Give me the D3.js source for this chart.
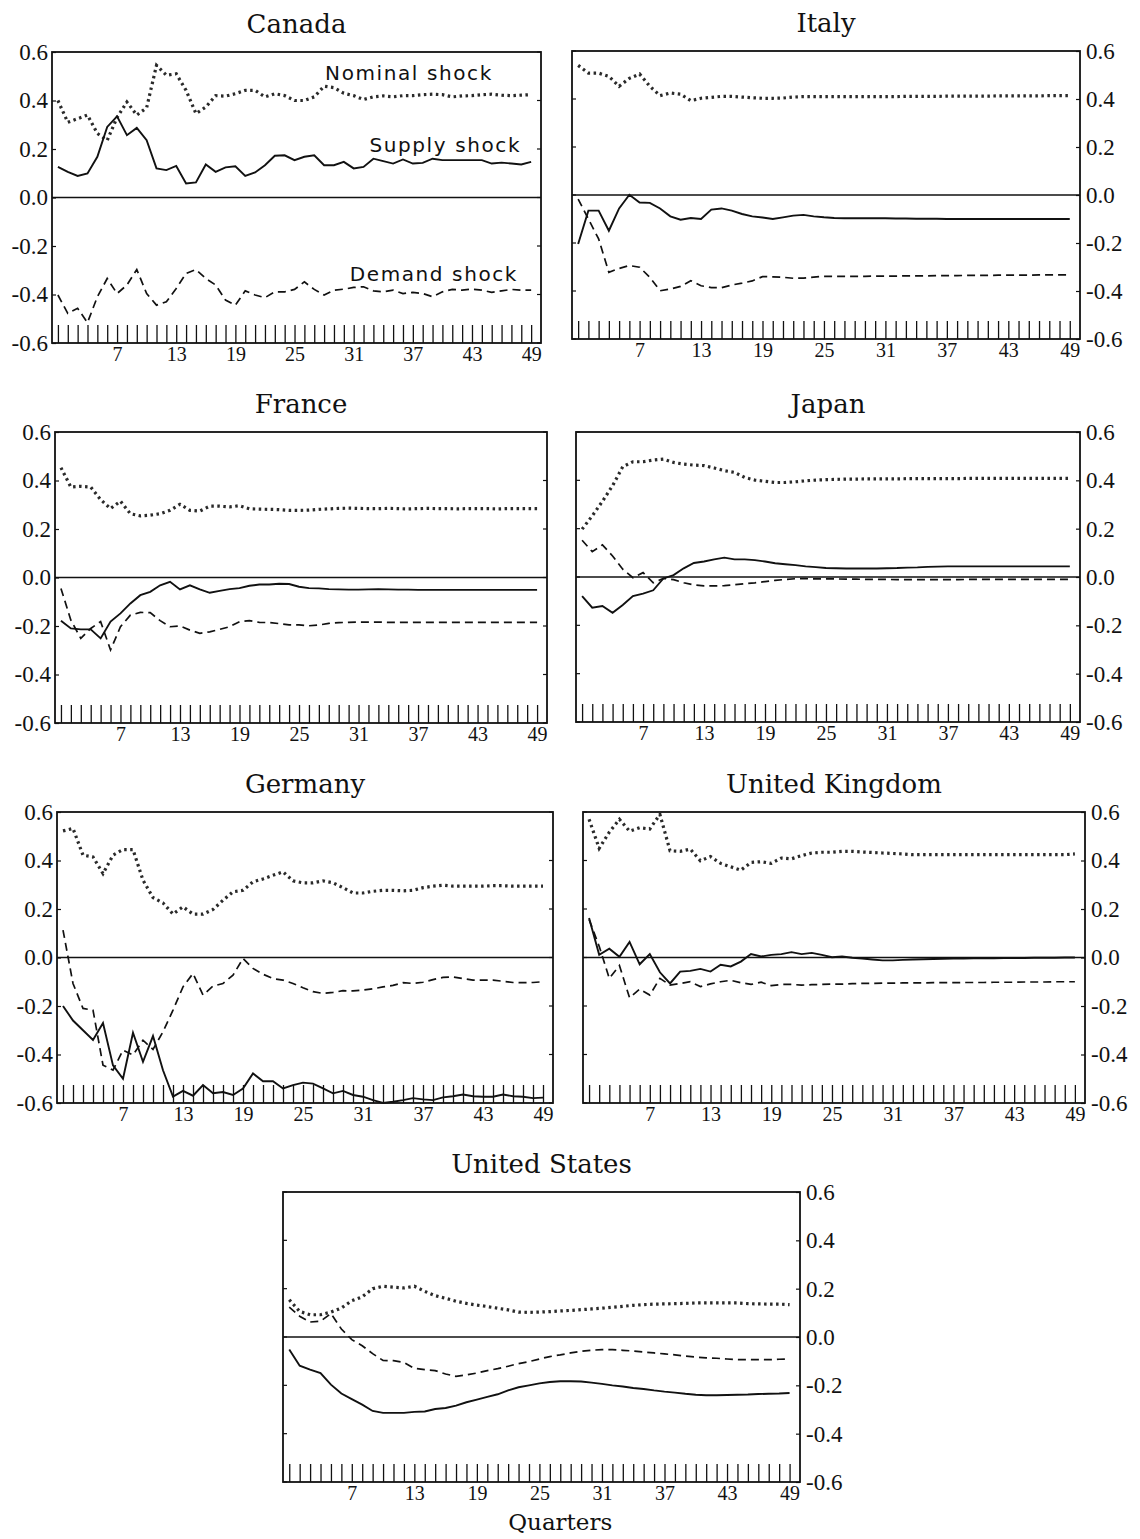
<!DOCTYPE html>
<html>
<head>
<meta charset="utf-8">
<script src="https://cdn.jsdelivr.net/npm/d3@7"></script>
<style>
  body { margin: 0; background: #fff; }
  svg { display: block; }
</style>
</head>
<body>
<div id="chart"></div>
<script>
// Impulse responses to supply, demand and nominal shocks, quarters 1..49, per country
const quarters = d3.range(1, 50);
const xTickLabels = [7, 13, 19, 25, 31, 37, 43, 49];
const yTicks = [-0.6, -0.4, -0.2, 0, 0.2, 0.4, 0.6];

const canadaSupply = [0.126,0.106,0.089,0.099,0.168,0.291,0.335,0.257,0.287,0.236,0.12,0.113,0.13,0.058,0.062,0.136,0.106,0.124,0.129,0.089,0.103,0.133,0.172,0.174,0.154,0.168,0.174,0.133,0.133,0.147,0.12,0.126,0.16,0.15,0.14,0.157,0.14,0.143,0.16,0.154,0.154,0.154,0.154,0.154,0.14,0.144,0.14,0.136,0.147];
const canadaDemand = [-0.402,-0.478,-0.457,-0.516,-0.41,-0.334,-0.396,-0.361,-0.297,-0.396,-0.444,-0.43,-0.375,-0.313,-0.297,-0.334,-0.361,-0.423,-0.444,-0.385,-0.402,-0.413,-0.389,-0.389,-0.379,-0.348,-0.379,-0.402,-0.382,-0.378,-0.371,-0.368,-0.385,-0.389,-0.382,-0.396,-0.391,-0.396,-0.409,-0.389,-0.379,-0.382,-0.378,-0.382,-0.391,-0.385,-0.379,-0.382,-0.382];
const canadaNominal = [0.40,0.31,0.325,0.34,0.264,0.236,0.33,0.394,0.34,0.37,0.545,0.504,0.51,0.442,0.346,0.373,0.42,0.418,0.428,0.442,0.442,0.415,0.428,0.42,0.40,0.40,0.415,0.459,0.453,0.43,0.42,0.404,0.415,0.419,0.415,0.42,0.42,0.424,0.426,0.424,0.415,0.419,0.42,0.424,0.426,0.422,0.42,0.422,0.424];

const italySupply = [-0.204,-0.065,-0.065,-0.149,-0.056,0.001,-0.031,-0.033,-0.056,-0.089,-0.103,-0.096,-0.1,-0.061,-0.056,-0.065,-0.079,-0.089,-0.094,-0.1,-0.093,-0.086,-0.083,-0.089,-0.093,-0.096,-0.097,-0.097,-0.097,-0.097,-0.097,-0.098,-0.098,-0.099,-0.099,-0.099,-0.1,-0.1,-0.1,-0.1,-0.1,-0.1,-0.1,-0.1,-0.1,-0.1,-0.1,-0.1,-0.1];
const italyDemand = [-0.017,-0.1,-0.183,-0.322,-0.306,-0.294,-0.301,-0.343,-0.399,-0.392,-0.381,-0.357,-0.378,-0.386,-0.386,-0.375,-0.367,-0.358,-0.34,-0.341,-0.343,-0.347,-0.346,-0.342,-0.339,-0.339,-0.339,-0.339,-0.339,-0.338,-0.338,-0.338,-0.337,-0.337,-0.337,-0.336,-0.336,-0.336,-0.335,-0.335,-0.335,-0.334,-0.334,-0.334,-0.334,-0.333,-0.333,-0.333,-0.333];
const italyNominal = [0.54,0.508,0.508,0.494,0.453,0.486,0.504,0.453,0.414,0.425,0.42,0.393,0.403,0.407,0.411,0.411,0.408,0.405,0.403,0.403,0.404,0.408,0.41,0.41,0.41,0.41,0.41,0.41,0.41,0.41,0.41,0.41,0.411,0.411,0.411,0.411,0.412,0.412,0.412,0.412,0.412,0.413,0.413,0.413,0.413,0.413,0.414,0.414,0.414];

const franceSupply = [-0.178,-0.21,-0.214,-0.214,-0.251,-0.182,-0.148,-0.107,-0.073,-0.059,-0.032,-0.018,-0.049,-0.032,-0.049,-0.063,-0.055,-0.048,-0.044,-0.034,-0.029,-0.029,-0.026,-0.027,-0.038,-0.044,-0.045,-0.048,-0.049,-0.05,-0.05,-0.049,-0.048,-0.049,-0.05,-0.05,-0.051,-0.051,-0.051,-0.051,-0.051,-0.051,-0.051,-0.051,-0.051,-0.051,-0.051,-0.051,-0.051];
const franceDemand = [-0.045,-0.176,-0.251,-0.21,-0.182,-0.299,-0.203,-0.155,-0.144,-0.145,-0.178,-0.203,-0.2,-0.217,-0.23,-0.224,-0.214,-0.203,-0.182,-0.178,-0.185,-0.186,-0.19,-0.195,-0.195,-0.199,-0.196,-0.189,-0.186,-0.185,-0.184,-0.184,-0.184,-0.185,-0.185,-0.185,-0.185,-0.185,-0.185,-0.185,-0.185,-0.185,-0.185,-0.185,-0.185,-0.185,-0.185,-0.185,-0.185];
const franceNominal = [0.453,0.373,0.376,0.373,0.321,0.284,0.315,0.263,0.254,0.257,0.263,0.277,0.302,0.277,0.274,0.294,0.294,0.291,0.296,0.283,0.282,0.281,0.28,0.277,0.277,0.278,0.281,0.283,0.285,0.286,0.285,0.284,0.284,0.285,0.284,0.283,0.284,0.285,0.284,0.284,0.283,0.284,0.284,0.284,0.283,0.284,0.284,0.284,0.284];

const japanSupply = [-0.079,-0.127,-0.12,-0.148,-0.116,-0.079,-0.069,-0.055,-0.006,0.008,0.036,0.058,0.064,0.073,0.08,0.073,0.073,0.07,0.064,0.057,0.053,0.049,0.044,0.041,0.037,0.036,0.035,0.035,0.035,0.035,0.036,0.037,0.039,0.04,0.042,0.043,0.044,0.044,0.044,0.044,0.044,0.044,0.044,0.044,0.044,0.044,0.044,0.044,0.044];
const japanDemand = [0.152,0.105,0.133,0.087,0.032,-0.003,0.018,-0.024,-0.006,-0.011,-0.024,-0.033,-0.037,-0.037,-0.036,-0.032,-0.028,-0.024,-0.019,-0.014,-0.01,-0.007,-0.007,-0.008,-0.008,-0.008,-0.009,-0.009,-0.01,-0.01,-0.01,-0.011,-0.011,-0.011,-0.011,-0.011,-0.011,-0.011,-0.01,-0.01,-0.01,-0.01,-0.01,-0.01,-0.01,-0.01,-0.01,-0.01,-0.01];
const japanNominal = [0.198,0.253,0.313,0.378,0.456,0.477,0.477,0.484,0.488,0.474,0.467,0.463,0.461,0.451,0.44,0.433,0.412,0.401,0.396,0.391,0.391,0.394,0.398,0.401,0.403,0.404,0.405,0.405,0.406,0.406,0.406,0.406,0.407,0.407,0.407,0.407,0.407,0.407,0.408,0.408,0.408,0.408,0.408,0.408,0.408,0.408,0.408,0.408,0.408];

const germanySupply = [-0.2,-0.26,-0.3,-0.34,-0.27,-0.445,-0.5,-0.31,-0.43,-0.324,-0.465,-0.574,-0.55,-0.57,-0.526,-0.56,-0.555,-0.567,-0.54,-0.478,-0.51,-0.51,-0.54,-0.526,-0.516,-0.52,-0.54,-0.56,-0.55,-0.567,-0.574,-0.588,-0.6,-0.595,-0.588,-0.58,-0.585,-0.588,-0.577,-0.572,-0.565,-0.572,-0.574,-0.574,-0.565,-0.572,-0.574,-0.58,-0.578];
const germanyDemand = [0.113,-0.107,-0.21,-0.217,-0.444,-0.464,-0.382,-0.402,-0.341,-0.379,-0.306,-0.217,-0.121,-0.066,-0.155,-0.118,-0.107,-0.073,-0.004,-0.045,-0.069,-0.087,-0.093,-0.107,-0.125,-0.141,-0.148,-0.144,-0.137,-0.138,-0.134,-0.129,-0.121,-0.115,-0.104,-0.107,-0.102,-0.091,-0.082,-0.08,-0.087,-0.093,-0.093,-0.093,-0.098,-0.103,-0.104,-0.103,-0.1];
const germanyNominal = [0.522,0.532,0.422,0.415,0.346,0.422,0.445,0.445,0.319,0.247,0.225,0.179,0.209,0.179,0.179,0.198,0.236,0.271,0.277,0.312,0.324,0.339,0.353,0.316,0.308,0.308,0.316,0.308,0.288,0.266,0.266,0.273,0.277,0.277,0.275,0.277,0.288,0.294,0.298,0.294,0.294,0.294,0.294,0.296,0.296,0.294,0.294,0.294,0.294];

const ukSupply = [0.163,0.011,0.036,0.003,0.064,-0.028,0.014,-0.061,-0.107,-0.058,-0.055,-0.047,-0.058,-0.03,-0.037,-0.017,0.014,0.004,0.011,0.014,0.022,0.014,0.019,0.011,0.001,0.004,-0.001,-0.004,-0.008,-0.012,-0.012,-0.01,-0.008,-0.007,-0.006,-0.005,-0.004,-0.004,-0.003,-0.003,-0.003,-0.002,-0.002,-0.002,-0.001,-0.001,-0.001,0,0];
const ukDemand = [0.157,0.046,-0.086,-0.033,-0.166,-0.13,-0.155,-0.086,-0.114,-0.107,-0.1,-0.12,-0.109,-0.1,-0.094,-0.104,-0.111,-0.102,-0.116,-0.111,-0.111,-0.114,-0.112,-0.111,-0.11,-0.11,-0.108,-0.107,-0.107,-0.106,-0.106,-0.105,-0.105,-0.105,-0.104,-0.104,-0.104,-0.103,-0.103,-0.103,-0.102,-0.102,-0.102,-0.101,-0.101,-0.101,-0.1,-0.1,-0.1];
const ukNominal = [0.57,0.45,0.517,0.57,0.521,0.535,0.53,0.59,0.44,0.438,0.447,0.399,0.416,0.388,0.374,0.36,0.392,0.395,0.388,0.41,0.407,0.42,0.431,0.434,0.434,0.438,0.438,0.435,0.433,0.431,0.429,0.427,0.424,0.424,0.424,0.424,0.424,0.424,0.424,0.424,0.424,0.424,0.424,0.424,0.424,0.424,0.424,0.424,0.427];

const usSupply = [-0.052,-0.119,-0.135,-0.149,-0.197,-0.234,-0.257,-0.28,-0.306,-0.314,-0.314,-0.314,-0.31,-0.308,-0.298,-0.294,-0.284,-0.27,-0.259,-0.248,-0.237,-0.221,-0.208,-0.2,-0.192,-0.186,-0.183,-0.183,-0.184,-0.189,-0.194,-0.2,-0.205,-0.211,-0.215,-0.221,-0.226,-0.23,-0.235,-0.239,-0.241,-0.241,-0.24,-0.239,-0.238,-0.236,-0.235,-0.234,-0.232];
const usDemand = [0.124,0.086,0.062,0.065,0.097,0.033,-0.011,-0.036,-0.069,-0.097,-0.098,-0.105,-0.13,-0.135,-0.139,-0.153,-0.163,-0.157,-0.149,-0.139,-0.131,-0.121,-0.11,-0.102,-0.091,-0.081,-0.074,-0.066,-0.059,-0.055,-0.052,-0.052,-0.055,-0.058,-0.062,-0.066,-0.07,-0.074,-0.079,-0.083,-0.086,-0.088,-0.091,-0.094,-0.094,-0.094,-0.094,-0.092,-0.091];
const usNominal = [0.154,0.106,0.092,0.092,0.103,0.12,0.15,0.166,0.2,0.21,0.206,0.203,0.21,0.189,0.171,0.16,0.148,0.139,0.132,0.126,0.119,0.112,0.103,0.102,0.103,0.105,0.108,0.11,0.113,0.116,0.119,0.123,0.127,0.131,0.134,0.136,0.137,0.138,0.139,0.141,0.141,0.141,0.141,0.141,0.138,0.137,0.136,0.136,0.134];

// Series labels written inside the Canada panel
const shockLabels = [
  { text: "Nominal shock", q: 28.1, v: 0.485 },
  { text: "Supply shock", q: 32.6, v: 0.188 },
  { text: "Demand shock", q: 30.6, v: -0.345 }
];

// panel frames: [left, right, top, bottom] in page pixels
const panels = [
  { name: "Canada", box: [52, 541, 52, 343], side: "left", supply: canadaSupply, demand: canadaDemand, nominal: canadaNominal, labels: shockLabels },
  { name: "Italy", box: [572, 1080, 51, 339], side: "right", supply: italySupply, demand: italyDemand, nominal: italyNominal },
  { name: "France", box: [55, 547, 432, 723], side: "left", supply: franceSupply, demand: franceDemand, nominal: franceNominal },
  { name: "Japan", box: [576, 1080, 432, 722], side: "right", supply: japanSupply, demand: japanDemand, nominal: japanNominal },
  { name: "Germany", box: [57, 553, 812, 1103], side: "left", supply: germanySupply, demand: germanyDemand, nominal: germanyNominal },
  { name: "United Kingdom", box: [583, 1085, 812, 1103], side: "right", supply: ukSupply, demand: ukDemand, nominal: ukNominal },
  { name: "United States", box: [283, 800, 1192, 1482], side: "right", supply: usSupply, demand: usDemand, nominal: usNominal, xTitle: "Quarters" }
];

const ink = "#111";

const svg = d3.select("#chart").append("svg")
  .attr("width", 1140)
  .attr("height", 1539)
  .style("background", "#fff");

panels.forEach(p => {
  const [left, right, top, bottom] = p.box;
  const x = d3.scaleLinear().domain([0.4, 50]).range([left, right]);
  const y = d3.scaleLinear().domain([-0.6, 0.6]).range([bottom, top]);
  const g = svg.append("g");

  // title
  g.append("text")
    .attr("x", (left + right) / 2)
    .attr("y", top - 19)
    .attr("text-anchor", "middle")
    .style("font-family", "'DejaVu Serif', serif")
    .style("font-size", "26px")
    .style("fill", ink)
    .text(p.name);

  // quarter ticks along the bottom
  const xAxis = g.append("g")
    .attr("transform", `translate(0,${bottom})`)
    .call(d3.axisBottom(x)
      .tickValues(quarters)
      .tickSize(-18)
      .tickPadding(4)
      .tickFormat(d => xTickLabels.includes(d) ? d : ""));
  xAxis.select(".domain").remove();
  xAxis.selectAll("line").attr("stroke", ink).attr("stroke-width", 1.3);
  xAxis.selectAll("text")
    .style("font-family", "'Liberation Serif', serif")
    .style("font-size", "20px")
    .attr("fill", ink);

  // value axis, left or right
  const axisFn = p.side === "left" ? d3.axisLeft(y) : d3.axisRight(y);
  const yAxis = g.append("g")
    .attr("transform", `translate(${p.side === "left" ? left : right},0)`)
    .call(axisFn
      .tickValues(yTicks)
      .tickSize(-4)
      .tickPadding(p.side === "left" ? 4 : 6)
      .tickFormat(d => d3.format(".1f")(d).replace("−", "-")));
  yAxis.select(".domain").remove();
  yAxis.selectAll("line").attr("stroke", ink).attr("stroke-width", 1.2);
  yAxis.selectAll("text")
    .style("font-family", "'Liberation Serif', serif")
    .style("font-size", "23px")
    .attr("fill", ink);

  // small inner ticks on the opposite edge
  const otherEdge = p.side === "left" ? right : left;
  g.selectAll(".inner-tick")
    .data(yTicks)
    .enter().append("line")
    .attr("x1", otherEdge)
    .attr("x2", p.side === "left" ? otherEdge - 4 : otherEdge + 4)
    .attr("y1", d => y(d))
    .attr("y2", d => y(d))
    .attr("stroke", ink)
    .attr("stroke-width", 1.2);

  // zero line
  g.append("line")
    .attr("x1", left).attr("x2", right)
    .attr("y1", y(0)).attr("y2", y(0))
    .attr("stroke", ink)
    .attr("stroke-width", 1.4);

  // frame
  g.append("rect")
    .attr("x", left).attr("y", top)
    .attr("width", right - left).attr("height", bottom - top)
    .attr("fill", "none")
    .attr("stroke", ink)
    .attr("stroke-width", 1.8);

  const line = d3.line()
    .x((d, i) => x(quarters[i]))
    .y(d => y(d));

  g.append("path")
    .datum(p.nominal)
    .attr("fill", "none")
    .attr("stroke", "#2a2a2a")
    .attr("stroke-width", 3.2)
    .attr("stroke-dasharray", "2.5,3.5")
    .attr("d", line);

  g.append("path")
    .datum(p.demand)
    .attr("fill", "none")
    .attr("stroke", ink)
    .attr("stroke-width", 1.7)
    .attr("stroke-dasharray", "8,5")
    .attr("d", line);

  g.append("path")
    .datum(p.supply)
    .attr("fill", "none")
    .attr("stroke", ink)
    .attr("stroke-width", 1.9)
    .attr("d", line);

  if (p.labels) {
    g.selectAll(".shock-label")
      .data(p.labels)
      .enter().append("text")
      .attr("x", d => x(d.q))
      .attr("y", d => y(d.v))
      .style("font-family", "'DejaVu Sans', sans-serif")
      .style("font-size", "20px")
      .style("letter-spacing", "1.6px")
      .style("fill", ink)
      .text(d => d.text);
  }

  if (p.xTitle) {
    g.append("text")
      .attr("x", x(27))
      .attr("y", bottom + 48)
      .attr("text-anchor", "middle")
      .style("font-family", "'DejaVu Serif', serif")
      .style("font-size", "23px")
      .style("fill", ink)
      .text(p.xTitle);
  }
});
</script>
</body>
</html>
